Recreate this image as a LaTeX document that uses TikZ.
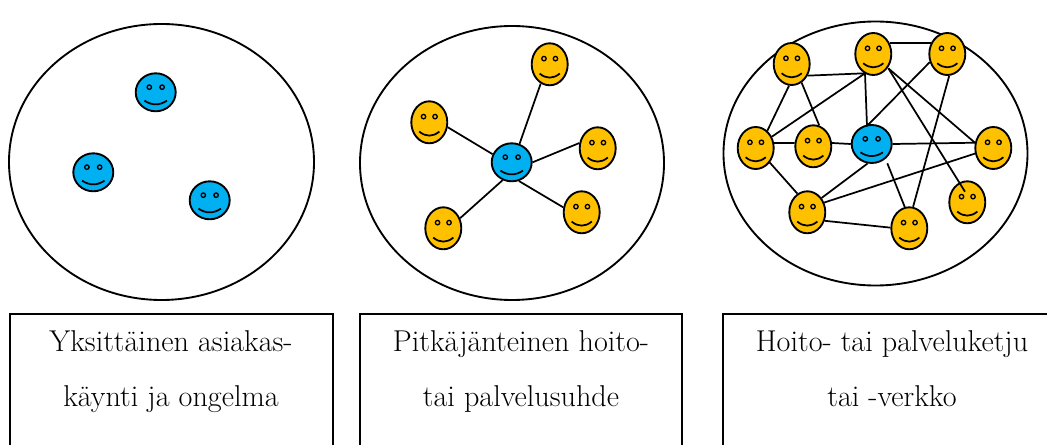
\documentclass[tikz,border=0pt]{standalone}
\usetikzlibrary{shapes.geometric}
\tikzset{
  field/.style={shape=ellipse,draw,line width=1.4pt,inner sep=0pt,minimum width=#1*0.75pt},
  face/.style n args={3}{shape=ellipse,draw,line width=1.4pt,fill=#1,inner sep=0pt,
    minimum width=#2*0.75pt,minimum height=#3*0.75pt,
    path picture={
      \begin{scope}[shift={(path picture bounding box.center)}]
      \draw [line width=1pt,fill=#1] (-0.16*#2,-0.135*#3) circle [radius=2.2];
      \draw [line width=1pt,fill=#1] (0.16*#2,-0.135*#3) circle [radius=2.2];
      \draw [line width=1.3pt] (-0.28*#2,0.22*#3) .. controls (-0.1*#2,0.35*#3) and (0.1*#2,0.35*#3) .. (0.28*#2,0.22*#3);
      \end{scope}
    }},
  client/.style={face={yellowcolor}{36}{42}},
  carer/.style={face={bluecolor}{40}{38}},
  link/.style={line width=1.3pt},
  frame/.style={line width=1.2pt},
  caption/.style={align=center,inner sep=0pt,anchor=base,font=\fontsize{22.6}{41.25}\selectfont}
}
\begin{document}
\begin{tikzpicture}[x=0.75pt,y=-0.75pt]
\definecolor{yellowcolor}{RGB}{255,192,0}
\definecolor{bluecolor}{RGB}{0,176,240}
\useasboundingbox (0,0) rectangle (1047,445);
\node [field=305,minimum height=276*0.75pt] (field1) at (161.5,162) {};
\node [field=304,minimum height=274*0.75pt] (field2) at (512,163) {};
\node [field=304,minimum height=264*0.75pt] (field3) at (875.5,153.5) {};
\node [carer] (a1) at (155.7,92.3) {};
\node [carer] (a2) at (93.3,172.3) {};
\node [carer] (a3) at (209.7,200.3) {};
\node [carer] (hub) at (511.7,162.3) {};
\node [client] (b1) at (549.7,64.3) {};
\node [client] (b2) at (429.3,122.3) {};
\node [client] (b3) at (597.7,148.3) {};
\node [client] (b4) at (581.7,212.3) {};
\node [client] (b5) at (443.3,228.3) {};
\draw [link] (hub.67) -- (b1.-115);
\draw [link] (hub.157) -- (b2.-15);
\draw [link] (hub.0) -- (b3.164);
\draw [link] (hub.-69) -- (b4.165);
\draw [link] (hub.-117) -- (b5.31);
\node [carer] (center) at (871.7,144) {};
\node [client] (c1) at (791.7,64) {};
\node [client] (c2) at (873.3,54) {};
\node [client] (c3) at (947.3,54) {};
\node [client] (c4) at (755.7,148) {};
\node [client] (c5) at (813.3,146.3) {};
\node [client] (c6) at (993.3,148) {};
\node [client] (c7) at (807.3,212.3) {};
\node [client] (c8) at (967.3,202.3) {};
\node [client] (c9) at (909.3,228.3) {};
\coordinate (c2a) at (865,73.3);
\coordinate (c2b) at (888.3,68.3);
\coordinate (c8in) at (965,191.7);
\coordinate (top) at (867,126);
\coordinate (low) at (887.3,163.3);
\draw [link] (c1.-36) -- (c2a);
\draw [link] (c1.-97) -- (c4.56);
\draw [link] (c1.-62) -- (c5.74);
\draw [link] (c2.35) -- (c3.145);
\draw [link] (c2a) -- (c4.35);
\draw [link] (c2a) -- (top);
\draw [link] (c2b) -- (c6.164);
\draw [link] (c2b) -- (c8in);
\draw [link] (c3.-155) -- (top);
\draw [link] (c3.-85) -- (c9.80);
\draw [link] (c4.15) -- (c5.170);
\draw [link] (c5.10) -- (center.west);
\draw [link] (center.east) -- (c6.164);
\draw [link] (c4.-46) -- (c7.118);
\draw [link] (c7.45) -- (center.-102);
\draw [link] (c7.30) -- (c6.197);
\draw [link] (c7.-26) -- (c9.178);
\draw [link] (low) -- (c9.102);
\draw [frame] (10,445) |- (333,314) -- (333,445);
\draw [frame] (360,445) |- (682,314) -- (682,445);
\draw [frame] (723,445) |- (1047,314);
\node [caption] (text1) at (171,406.7) {Yksittäinen asiakas-\\käynti ja ongelma};
\node [caption] (text2) at (521,406.7) {Pitkäjänteinen hoito-\\tai palvelusuhde};
\node [caption] (text3) at (892,406.7) {Hoito- tai palveluketju\\tai -verkko};
\end{tikzpicture}
\end{document}
